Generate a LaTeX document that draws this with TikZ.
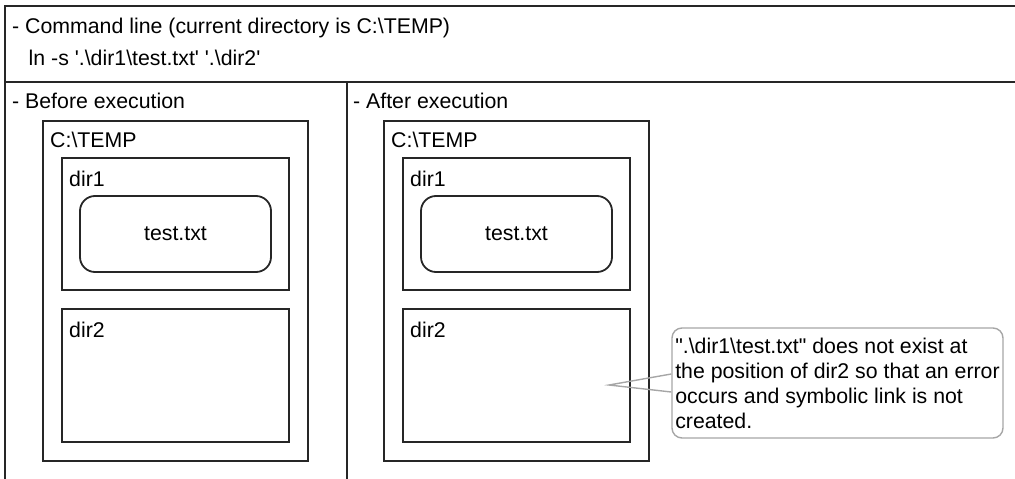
\documentclass[tikz,border=0pt]{standalone}
\usepackage{fontspec}
\setmainfont{Liberation Sans}[Ligatures=TeXOff]
\usepackage{tikz}
\usetikzlibrary{positioning}

\begin{document}
\begin{tikzpicture}[
    x=1pt, y=-1pt,
    every node/.style={font=\fontsize{21.3}{25}\selectfont},
    frame/.style={
        line width=1.8pt,
        black!85
    },
    folder/.style={
        rectangle,
        draw=black!85,
        line width=1.8pt,
        anchor=north west,
        inner sep=0pt,
        outer sep=0pt
    },
    file/.style={
        folder,
        rounded corners=15pt
    },
    caption/.style={
        anchor=base west,
        inner sep=0pt
    },
    note/.style={
        rectangle,
        draw=black!35,
        line width=1.4pt,
        rounded corners=10pt,
        align=left,
        inner xsep=3pt,
        minimum width=331pt,
        minimum height=110pt
    },
    pointer/.style={
        draw=black!35,
        line width=1.4pt
    }
]
\useasboundingbox (0,0) rectangle (1015,479);

% outer frame, cut by the page on the right and at the bottom
\draw[frame] (1030,6) -- (5,6) -- (5,490);
\draw[frame] (5,82) -- (1030,82);
\draw[frame] (347,82) -- (347,490);

\node[caption] (cmdhead) at (12,33) {- Command line (current directory is C:\textbackslash TEMP)};
\node[caption] (cmdline) at (28.5,65) {ln -s '.\textbackslash dir1\textbackslash test.txt' '.\textbackslash dir2'};

% before execution
\node[caption] (beforehead) at (12,108) {- Before execution};
\node[folder, minimum width=265pt, minimum height=340pt] (tempA) at (43,121) {};
\node[caption] (tempAlabel) at (50,147) {C:\textbackslash TEMP};
\node[folder, minimum width=227pt, minimum height=132pt] (dirOneA) at (62,158) {};
\node[caption] (dirOneAlabel) at (69,186) {dir1};
\node[file, minimum width=191pt, minimum height=76pt] (testA) at (80,196) {test.txt};
\node[folder, minimum width=227pt, minimum height=133pt] (dirTwoA) at (62,309) {};
\node[caption] (dirTwoAlabel) at (69,337) {dir2};

% after execution
\node[caption] (afterhead) at (353,108) {- After execution};
\node[folder, minimum width=265pt, minimum height=340pt] (tempB) at (384,121) {};
\node[caption] (tempBlabel) at (391,147) {C:\textbackslash TEMP};
\node[folder, minimum width=227pt, minimum height=132pt] (dirOneB) at (403,158) {};
\node[caption] (dirOneBlabel) at (410,186) {dir1};
\node[file, minimum width=191pt, minimum height=76pt] (testB) at (421,196) {test.txt};
\node[folder, minimum width=227pt, minimum height=133pt] (dirTwoB) at (403,309) {};
\node[caption] (dirTwoBlabel) at (410,337) {dir2};

\node[note] (error) at (837.5,383) {".\textbackslash dir1\textbackslash test.txt" does not exist at\\the position of dir2 so that an error\\occurs and symbolic link is not\\created.};
\coordinate (tip) at (609,385);
\draw[pointer] ([yshift=9pt]error.west) -- (tip) -- ([yshift=-9pt]error.west);

\end{tikzpicture}
\end{document}
